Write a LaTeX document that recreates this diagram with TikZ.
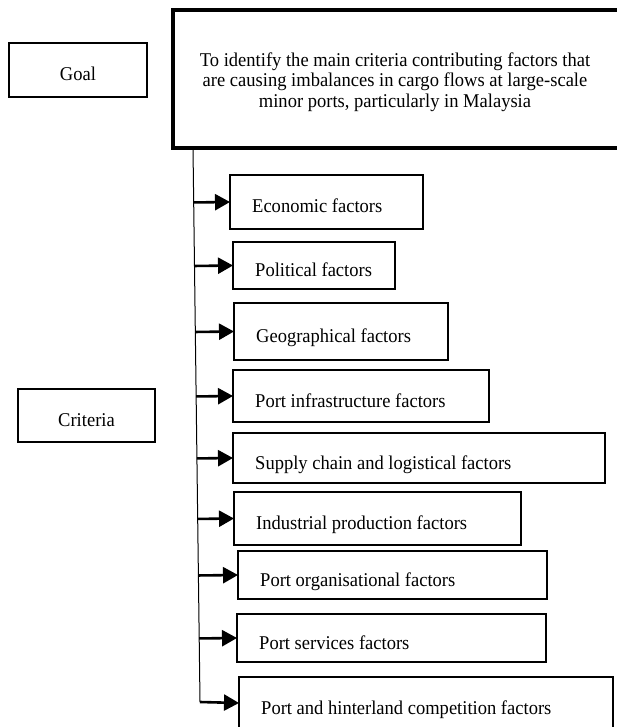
\documentclass[tikz,border=0pt]{standalone}
\usepackage{fontspec}
\setmainfont{Liberation Serif}[FakeStretch=0.95]
\usetikzlibrary{arrows.meta,calc}

\begin{document}
\begin{tikzpicture}[x=1pt,y=-1pt,
	kasten/.style={draw,line width=1.8pt,inner sep=0pt,outer sep=0pt},
	schrift/.style={font=\fontsize{19.5}{20.5}\selectfont},
	pfeil/.style={-{Triangle[length=15pt,width=16pt]},line width=2.6pt}]

\useasboundingbox (0,0) rectangle (617,727);
\clip (0,0) rectangle (617,727);

\def\faktorfeld#1#2#3#4#5#6{
	\node[kasten,anchor=north west,minimum width={#4-#2},minimum height={#5-#3}]
		(#1) at (#2,#3) {};
	\node[schrift,anchor=base west,inner sep=0pt] (#1t) at ([xshift=22pt,yshift=-11pt]#1.west) {#6};
}

% linke Spalte
\node[kasten,schrift,text height=22pt,text depth=0pt,minimum width=138,minimum height=54] (goal) at (78,70) {Goal};
\node[kasten,schrift,text height=21pt,text depth=0pt,minimum width=137,minimum height=53] (criteria) at (86.5,415.5) {Criteria};

% Ziel
\node[kasten,line width=4pt,minimum width=448,minimum height=138] (ziel) at (397,79) {};
\node[schrift,align=center,inner sep=0pt] (zieltext) at ([xshift=-2pt,yshift=-3pt]ziel.center)
	{To identify the main criteria contributing factors that\\
	 are causing imbalances in cargo flows at large-scale\\
	 minor ports, particularly in Malaysia};

% Kriterien
\faktorfeld{f1}{230}{175}{423}{229}{Economic factors}
\faktorfeld{f2}{233}{242}{395}{289}{Political factors}
\faktorfeld{f3}{234}{303}{448}{360}{Geographical factors}
\faktorfeld{f4}{233}{370}{489}{422}{Port infrastructure factors}
\faktorfeld{f5}{233}{433}{605}{483}{Supply chain and logistical factors}
\faktorfeld{f6}{234}{492}{521}{545}{Industrial production factors}
\faktorfeld{f7}{238}{551}{547}{599}{Port organisational factors}
\faktorfeld{f8}{237}{614}{546}{662}{Port services factors}
\faktorfeld{f9}{239}{677}{613}{729}{Port and hinterland competition factors}

% Stamm und Pfeile
\coordinate (oben) at ([xshift=20pt]ziel.south west);
\coordinate (unten) at (200,702);
\draw[line width=1pt] (oben) -- (unten);
\foreach \i in {1,...,8}{
	\draw[pfeil] ($(oben)!(f\i.west)!(unten)$) -- (f\i.west);
}
\draw[pfeil] (unten) -- (f9.west);

\end{tikzpicture}
\end{document}
